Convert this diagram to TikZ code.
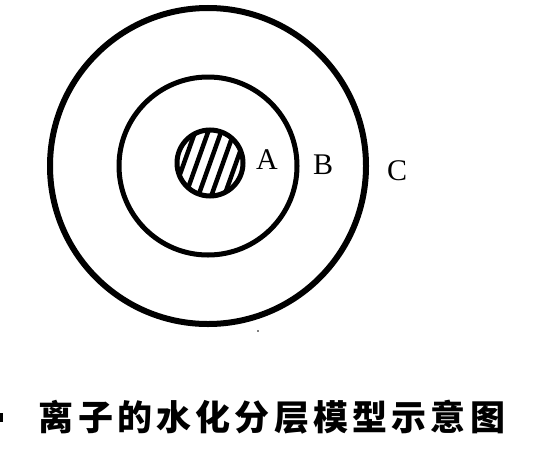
\documentclass[tikz,border=0pt]{standalone}
\usepackage{fontspec}
\setmainfont{Liberation Serif}
\newfontfamily\cjk{Noto Sans CJK SC}[LetterSpace=12]
\begin{document}
\begin{tikzpicture}[x=1pt,y=-1pt,
  ring/.style={circle,draw=black,inner sep=0pt},
  lbl/.style={font=\fontsize{30}{30}\selectfont,inner sep=0pt,anchor=center},
  hatch/.style={line width=4.5pt}]
\useasboundingbox (0,0) rectangle (534,455);
\node[ring,line width=6pt,minimum size=316pt] (outer) at (208,166) {};
\node[ring,line width=5pt,minimum size=178pt] (middle) at (208,166) {};
\node[ring,line width=5pt,minimum size=66pt] (core) at (210,163) {};
\begin{scope}
  \clip (210,163) circle (33pt);
  \foreach \i in {-3,...,3}
    \draw[hatch] (210+\i*13-25,163+70) -- (210+\i*13+25,163-70);
\end{scope}
\node[lbl] (A) at (267,160) {A};
\node[lbl] (B) at (323,165) {B};
\node[lbl] (C) at (397,171) {C};
\node[font=\cjk\bfseries\fontsize{35}{35}\selectfont,inner sep=0pt] (cap) at (272,417) {离子的水化分层模型示意图};
\fill (0,413) rectangle (2.5,422);
\fill (258,331) circle (0.8pt);
\end{tikzpicture}
\end{document}
